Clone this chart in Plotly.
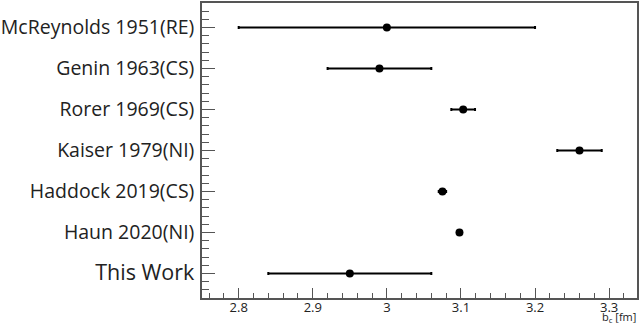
import plotly.graph_objects as go
import numpy as np

labels = ["McReynolds 1951(RE)", "Genin 1963(CS)", "Rorer 1969(CS)", "Kaiser 1979(NI)",
          "Haddock 2019(CS)", "Haun 2020(NI)", "This Work"]
values = [3.000, 2.990, 3.103, 3.260, 3.075, 3.098, 2.950]
errors = [0.200, 0.070, 0.016, 0.030, 0.005, 0.002, 0.110]
ypos = [6.6, 5.6, 4.6, 3.6, 2.6, 1.6, 0.6]

x_ticks = [2.8, 2.9, 3.0, 3.1, 3.2, 3.3]
x_ticktext = ["2.8", "2.9", "3", "3.1", "3.2", "3.3"]

ticktext = [l if l != "This Work" else "<span style='font-size:21.5px'>This Work</span>" for l in labels]

FONT = "Open Sans"

fig = go.Figure()
fig.add_trace(go.Scatter(
    x=values, y=ypos, mode="markers",
    marker=dict(color="black", size=8, symbol="circle"),
    error_x=dict(type="data", array=errors, visible=True, color="black", thickness=2, width=1.5),
    showlegend=False,
))

axis_line = "#555555"
fig.update_layout(
    width=640, height=326,
    margin=dict(l=202, r=2, t=1, b=28),
    paper_bgcolor="white", plot_bgcolor="white",
    font=dict(family=FONT, color="#222222"),
    xaxis=dict(
        range=[2.7505, 3.3376], showgrid=False, zeroline=False,
        showline=True, linecolor=axis_line, linewidth=1.5, mirror=True,
        tickmode="array", tickvals=x_ticks, ticktext=x_ticktext,
        ticks="inside", ticklen=10, tickwidth=1, tickcolor=axis_line,
        tickfont=dict(size=13, family=FONT, color="#222222"),
        ticklabelstandoff=-3,
        minor=dict(tickmode="array", tickvals=list(np.round(np.arange(2.76, 3.34, 0.02), 3)),
                   ticks="inside", ticklen=5, tickwidth=1, tickcolor=axis_line),
    ),
    yaxis=dict(
        range=[0, 7.2], showgrid=False, zeroline=False,
        showline=True, linecolor=axis_line, linewidth=1.5, mirror=True,
        tickmode="array", tickvals=ypos, ticktext=ticktext,
        ticks="inside", ticklen=13, tickwidth=1, tickcolor=axis_line,
        tickfont=dict(size=19.5, family=FONT, color="#222222"),
        ticklabelstandoff=2,
        minor=dict(tickmode="array", tickvals=list(np.round(np.arange(0.2, 7.2, 0.2), 3)),
                   ticks="inside", ticklen=7, tickwidth=1, tickcolor=axis_line),
    ),
    annotations=[dict(
        text="b<sub>c</sub> [fm]", xref="paper", yref="paper", x=1, y=0,
        xanchor="right", yanchor="bottom", yshift=-28, borderpad=0, showarrow=False,
        font=dict(size=11, family=FONT, color="#222222"),
    )],
)

fig.write_html("out.html", config={"displayModeBar": False},
               post_script="document.body.style.margin='0';")
